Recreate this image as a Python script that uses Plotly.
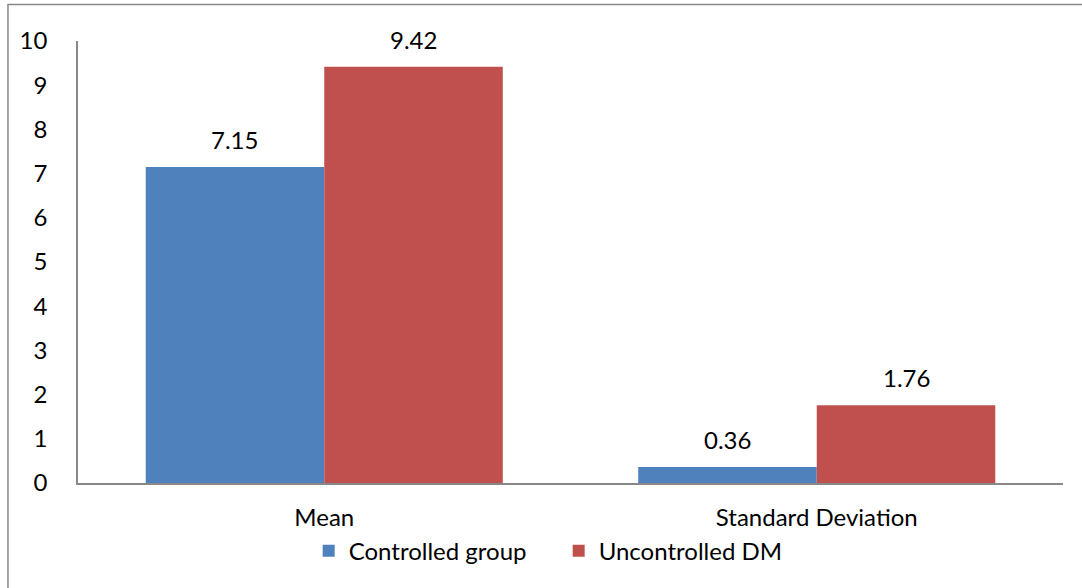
import plotly.graph_objects as go

categories = ["Mean", "Standard Deviation"]
controlled = [7.15, 0.36]
uncontrolled = [9.42, 1.76]
series_names = ["Controlled group", "Uncontrolled DM"]
y_ticks = [0, 1, 2, 3, 4, 5, 6, 7, 8, 9, 10]

FONT = "Lato, 'Open Sans', sans-serif"
FS = 24
BAR_W = 0.3625
positions = list(range(len(categories)))

fig = go.Figure()
series = [(controlled, series_names[0], "#4F81BD", -BAR_W),
          (uncontrolled, series_names[1], "#C0504D", 0.0)]
annotations = []
for vals, name, color, off in series:
    fig.add_trace(go.Bar(
        x=positions, y=vals, name=name, width=BAR_W, offset=off,
        marker=dict(color=color, line=dict(width=0)),
    ))
    for p, v in zip(positions, vals):
        annotations.append(dict(
            x=p + off + BAR_W / 2, y=v, xref="x", yref="y",
            text=f"{v:.2f}", showarrow=False, yanchor="bottom", yshift=11,
            font=dict(size=FS, color="black", family=FONT)))

fig.update_layout(
    width=1082, height=588,
    margin=dict(l=78, r=19, t=41, b=105),
    paper_bgcolor="white", plot_bgcolor="white",
    barmode="overlay",
    font=dict(family=FONT, size=FS, color="black"),
    showlegend=True,
    legend=dict(orientation="h", x=0.488, xanchor="center", y=-0.154, yanchor="middle",
                font=dict(size=FS, family=FONT), traceorder="normal",
                entrywidth=205, entrywidthmode="pixels", itemwidth=30),
    xaxis=dict(range=[-0.5, len(categories) - 0.5], tickvals=positions, ticktext=categories,
               showline=True, linecolor="#888888", linewidth=1.5, ticks="",
               showgrid=False, zeroline=False, tickfont=dict(size=FS), ticklabelstandoff=12),
    yaxis=dict(range=[0, 10], tickvals=y_ticks, showline=True, linecolor="#888888",
               linewidth=1.5, ticks="", showgrid=False, zeroline=False,
               tickfont=dict(size=FS), ticklabelstandoff=24),
    annotations=annotations,
    shapes=[dict(type="rect", xref="paper", yref="paper",
                 x0=-0.0711, x1=1.05, y0=-0.4, y1=1.0826,
                 line=dict(color="#888888", width=1.5), fillcolor="rgba(0,0,0,0)", layer="below")],
)

fig.write_html("out.html", config={"displayModeBar": False},
               post_script="document.body.style.margin='0';")
